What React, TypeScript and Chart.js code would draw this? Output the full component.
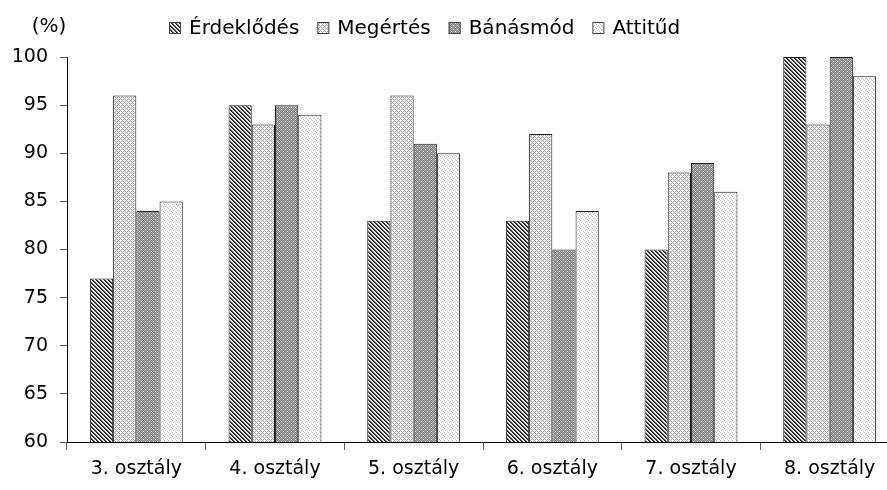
import React, { useEffect, useRef } from "react";
import { Chart, registerables } from "chart.js";

Chart.register(...registerables);

const categories = ["3. osztály", "4. osztály", "5. osztály", "6. osztály", "7. osztály", "8. osztály"];
const seriesNames = ["Érdeklődés", "Megértés", "Bánásmód", "Attitűd"];
const erdeklodes = [77, 95, 83, 83, 80, 100];
const megertes = [96, 93, 96, 92, 88, 93];
const banasmod = [84, 95, 91, 80, 89, 100];
const attitud = [85, 94, 90, 84, 86, 98];
const yTicks = [60, 65, 70, 75, 80, 85, 90, 95, 100];
const unitLabel = "(%)";

const FONT = "DejaVu Sans";

function makePattern(kind: number): CanvasPattern | string {
  const c = document.createElement("canvas");
  c.width = 4;
  c.height = 4;
  const g = c.getContext("2d");
  if (!g) return "#999";
  const px = (x: number, y: number, col: string) => {
    g.fillStyle = col;
    g.fillRect(x, y, 1, 1);
  };
  if (kind === 0) {
    g.fillStyle = "#ffffff";
    g.fillRect(0, 0, 4, 4);
    for (let y = 0; y < 4; y++)
      for (let x = 0; x < 4; x++) {
        const d = (x - y + 8) % 4;
        if (d === 0) px(x, y, "#202020");
        else if (d === 1) px(x, y, "#505050");
        else if (d === 2) px(x, y, "#d8d8d8");
      }
  } else if (kind === 1) {
    g.fillStyle = "#ececec";
    g.fillRect(0, 0, 4, 4);
    for (let y = 0; y < 4; y++)
      for (let x = 0; x < 4; x++) {
        if ((x + y) % 2 === 0) px(x, y, "#a8a8a8");
      }
    px(0, 0, "#ffffff");
    px(2, 2, "#ffffff");
  } else if (kind === 2) {
    g.fillStyle = "#808080";
    g.fillRect(0, 0, 4, 4);
    for (let y = 0; y < 4; y++)
      for (let x = 0; x < 4; x++) {
        if ((x + y) % 2 === 0) px(x, y, "#a8a8a8");
      }
    px(1, 1, "#e0e0e0");
    px(3, 3, "#e0e0e0");
  } else {
    g.fillStyle = "#ffffff";
    g.fillRect(0, 0, 4, 4);
    px(0, 0, "#b8b8b8");
    px(2, 1, "#c8c8c8");
    px(1, 2, "#b8b8b8");
    px(3, 3, "#c8c8c8");
  }
  const ctx = document.createElement("canvas").getContext("2d");
  const p = ctx ? ctx.createPattern(c, "repeat") : null;
  return p || "#ccc";
}

export default function App() {
  const ref = useRef<HTMLCanvasElement | null>(null);

  useEffect(() => {
    const canvas = ref.current;
    if (!canvas) return;
    const fills = [0, 1, 2, 3].map((k) => makePattern(k));
    const values = [erdeklodes, megertes, banasmod, attitud];

    const legendPlugin = {
      id: "customLegend",
      afterDraw(chart: any) {
        const ctx = chart.ctx as CanvasRenderingContext2D;
        ctx.save();
        ctx.font = `20px "${FONT}"`;
        ctx.textBaseline = "middle";
        ctx.fillStyle = "#000";
        ctx.textAlign = "center";
        ctx.fillText(unitLabel, 49, 27);
        ctx.textAlign = "left";
        let x = 169;
        chart.data.datasets.forEach((ds: any) => {
          ctx.fillStyle = ds.backgroundColor;
          ctx.fillRect(x, 22, 12, 12);
          ctx.strokeStyle = "#444";
          ctx.lineWidth = 1;
          ctx.strokeRect(x + 0.5, 22.5, 11, 11);
          ctx.fillStyle = "#000";
          ctx.fillText(ds.label, x + 20, 29);
          x += 20 + ctx.measureText(ds.label).width + 18;
        });
        ctx.restore();
      },
    };

    const chart = new Chart(canvas, {
      type: "bar",
      data: {
        labels: categories,
        datasets: seriesNames.map((name, i) => ({
          label: name,
          data: values[i],
          backgroundColor: fills[i] as any,
          borderColor: "#222",
          borderWidth: 1,
          borderSkipped: false,
          barPercentage: 1,
          categoryPercentage: 0.67,
        })),
      },
      options: {
        responsive: false,
        animation: false,
        devicePixelRatio: 1,
        layout: { padding: { top: 57, right: 1, left: 0, bottom: 0 } },
        plugins: {
          legend: { display: false },
          tooltip: { enabled: false },
          title: { display: false },
        },
        scales: {
          x: {
            grid: {
              offset: true,
              drawOnChartArea: false,
              drawTicks: true,
              tickLength: 8,
              color: "#606060",
            },
            border: { display: true, color: "#000", width: 1 },
            ticks: {
              color: "#000",
              font: { family: FONT, size: 19 },
              padding: 8,
              maxRotation: 0,
            },
            afterFit(scale: any) {
              scale.height = 48;
            },
          },
          y: {
            min: 60,
            max: 100,
            afterBuildTicks(scale: any) {
              scale.ticks = yTicks.map((v) => ({ value: v }));
            },
            grid: {
              drawOnChartArea: false,
              drawTicks: true,
              tickLength: 7,
              color: "#606060",
            },
            border: { display: true, color: "#000", width: 1 },
            ticks: {
              color: "#000",
              font: { family: FONT, size: 19 },
              padding: 12,
            },
            afterFit(scale: any) {
              scale.width = 67;
            },
          },
        },
      },
      plugins: [legendPlugin],
    });
    return () => chart.destroy();
  }, []);

  return (
    <div
      style={{
        position: "absolute",
        left: 0,
        top: 0,
        width: 887,
        height: 490,
        overflow: "hidden",
        background: "#fff",
      }}
    >
      <canvas ref={ref} width={900} height={490} style={{ width: 900, height: 490, display: "block" }} />
    </div>
  );
}
